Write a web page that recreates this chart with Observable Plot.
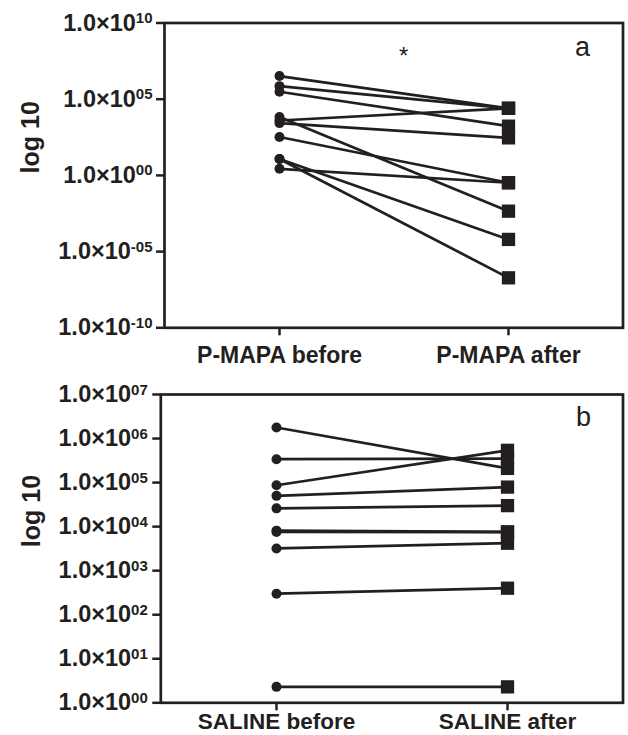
<!DOCTYPE html>
<html><head><meta charset="utf-8">
<script src="https://cdn.jsdelivr.net/npm/d3@7"></script>
<script src="https://cdn.jsdelivr.net/npm/@observablehq/plot@0.6"></script>
<style>
body{margin:0;background:#fff;width:628px;height:735px;overflow:hidden}
#chart svg{display:block;overflow:visible}
</style>
</head><body><div id="chart"></div>
<script>
// ---------- Panel a: P-MAPA ----------
const pmapaCategories = ["P-MAPA before", "P-MAPA after"];
const pmapaBefore = [3.3e6, 7.2e5, 3.1e5, 4.0e3, 2.7e3, 6.7e3, 3.3e2, 2.7, 12, 12];
const pmapaAfter  = [2.5e4, 2.5e4, 1.7e3, 2.5e4, 2.9e2, 4.5e-3, 0.33, 0.33, 6.3e-5, 1.9e-7];
const pmapaTicks = [1e-10, 1e-5, 1e0, 1e5, 1e10];
const pmapaTickLabels = ["1.0×10^-10", "1.0×10^-05", "1.0×10^00", "1.0×10^05", "1.0×10^10"];

// ---------- Panel b: SALINE ----------
const salineCategories = ["SALINE before", "SALINE after"];
const salineBefore = [1.78e6, 3.4e5, 8.7e4, 5.0e4, 2.6e4, 8.1e3, 7.6e3, 3.2e3, 3.0e2, 2.3];
const salineAfter  = [2.1e5, 3.5e5, 5.4e5, 7.9e4, 3.0e4, 7.6e3, 7.5e3, 4.2e3, 4.0e2, 2.3];
const salineTicks = [1e0, 1e1, 1e2, 1e3, 1e4, 1e5, 1e6, 1e7];
const salineTickLabels = ["1.0×10^00", "1.0×10^01", "1.0×10^02", "1.0×10^03", "1.0×10^04", "1.0×10^05", "1.0×10^06", "1.0×10^07"];

const yLabel = "log 10";
const ink = "#231f20";
const font = "'Liberation Sans', Arial, Helvetica, sans-serif";

function panel(o) {
  const rows = [];
  o.before.forEach((v, i) => {
    rows.push({id: i, cat: o.cats[0], value: v});
    rows.push({id: i, cat: o.cats[1], value: o.after[i]});
  });
  const labelMap = new Map(o.ticks.map((t, i) => [t, o.labels[i]]));
  const marks = [
    Plot.frame({stroke: ink, strokeWidth: 2.7}),
    Plot.axisY({ticks: o.ticks, tickFormat: d => labelMap.get(d), tickSize: 8, tickPadding: o.tickPad,
      fontSize: 23.5, fontWeight: "bold", stroke: ink, strokeWidth: 2.5, label: null}),
    Plot.axisX({tickSize: 8, tickPadding: o.xPad, fontSize: o.xFont, fontWeight: "bold", stroke: ink, strokeWidth: 2.5, label: null}),
    Plot.text([yLabel], {frameAnchor: "left", rotate: -90, dx: o.yLabelDx, dy: o.yLabelDy, fontSize: 25, fontWeight: "bold", fill: ink}),
    Plot.line(rows, {x: "cat", y: "value", z: "id", stroke: ink, strokeWidth: 2.7}),
    Plot.dot(rows.filter(d => d.cat === o.cats[0]), {x: "cat", y: "value", r: 5, fill: ink, stroke: null}),
    Plot.dot(rows.filter(d => d.cat === o.cats[1]), {x: "cat", y: "value", r: 7.5, symbol: "square", fill: ink, stroke: null}),
    Plot.text([o.letter], {frameAnchor: "top-right", dx: o.letterDx, dy: o.letterDy, fontSize: 27, fill: ink, lineAnchor: "middle"})
  ];
  if (o.star) marks.push(Plot.text([o.star], {frameAnchor: "top", dx: 10, dy: 24, fontSize: 24, fill: ink}));
  const svg = Plot.plot({
    width: 628, height: o.height,
    marginTop: o.mt, marginBottom: o.mb, marginLeft: o.ml, marginRight: o.mr,
    style: {fontFamily: font, background: "#fff", color: ink},
    x: {type: "point", domain: o.cats, padding: 0.5, label: null},
    y: {type: "log", domain: o.domain, label: null},
    marks
  });
  // superscript exponents in tick labels
  const ns = "http://www.w3.org/2000/svg";
  svg.querySelectorAll("text").forEach(t => {
    const s = t.textContent;
    if (!s.includes("^")) return;
    const [base, exp] = s.split("^");
    while (t.firstChild) t.removeChild(t.firstChild);
    const a = document.createElementNS(ns, "tspan"); a.textContent = base;
    const b = document.createElementNS(ns, "tspan"); b.textContent = exp;
    b.setAttribute("dy", "-7.5"); b.setAttribute("font-size", "15");
    t.appendChild(a); t.appendChild(b);
  });
  return svg;
}

const chart = document.getElementById("chart");
chart.appendChild(panel({
  cats: pmapaCategories, before: pmapaBefore, after: pmapaAfter,
  ticks: pmapaTicks, labels: pmapaTickLabels, domain: [1e-10, 1e10],
  height: 370, mt: 22.5, mb: 370 - 327.3, ml: 164, mr: 5.5, tickPad: 4, xPad: 11, xFont: 23,
  yLabelDx: -134, yLabelDy: -2, letter: "a", letterDx: -33, letterDy: 24, star: "*"
}));
chart.appendChild(panel({
  cats: salineCategories, before: salineBefore, after: salineAfter,
  ticks: salineTicks, labels: salineTickLabels, domain: [1, 1e7],
  height: 365, mt: 24, mb: 735 - 702.3, ml: 160.3, mr: 5.5, tickPad: 5, xPad: 2.5, xFont: 22.5,
  yLabelDx: -129, yLabelDy: -1.5, letter: "b", letterDx: -32, letterDy: 23
}));
</script>
</body></html>
